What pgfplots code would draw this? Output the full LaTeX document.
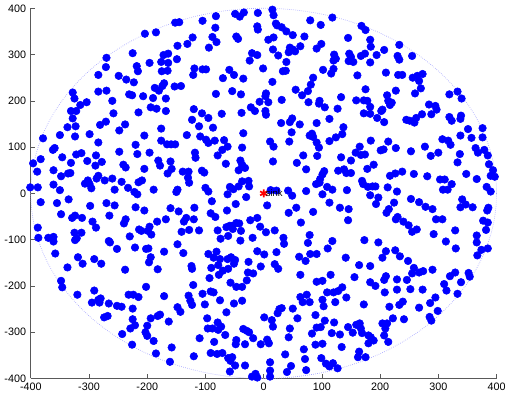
\documentclass[border=0pt]{standalone}
\usepackage{fontspec}
\setmainfont{Liberation Sans}
\usepackage{pgfplots}
\pgfplotsset{compat=1.18}
\begin{document}
\begin{tikzpicture}
\begin{axis}[
  scale only axis, width=346pt, height=275pt,
  xmin=-400,xmax=400,ymin=-400,ymax=400,
  xtick={-400,-300,...,400}, ytick={-400,-300,...,400},
  axis lines*=left,
  axis line style={gray!70!black, line width=0.6pt},
  tick style={gray!70!black, line width=0.5pt},
  tick align=inside, major tick length=3pt,
  tick label style={font=\fontsize{8}{9}\selectfont},
  /pgf/number format/assume math mode=true,
  clip=false,
]
\draw[blue!35, densely dotted, line width=0.5pt] (axis cs:0,0) ellipse [x radius=400, y radius=400];
\addplot[only marks, mark=*, mark size=2.8pt, color=blue, mark options={draw=blue, fill=blue}] coordinates {
(-204,345) (-270,293) (-225,303) (-271,273) (-284,256) (-249,254) (-218,275) (-216,264) (-236,246) (-223,240) (-328,218) (-325,205) (-284,220) (-270,222) (-304,197) (-315,191) (-260,200) (-231,214) (-226,212) (-207,210) (-331,178) (-322,178) (-258,173) (-328,162) (-215,175) (-271,155) (-281,148) (-238,149) (-337,143) (-323,145) (-248,136)
(-185,348) (-152,369) (-145,370) (-105,373) (-82,383) (-49,388) (-41,382) (-34,391) (-10,390) (-83,358) (-11,361) (-10,354) (-122,337) (-131,323) (-148,319) (-88,338) (-81,327) (-94,315) (-47,339) (-44,334) (-196,282) (-172,299) (-164,302) (-176,284) (-164,282) (-149,290) (-175,264) (-165,265) (-119,270) (-121,256) (-105,268) (-99,268) (-59,267) (-51,256) (-70,249) (-35,248) (-20,303) (-11,299) (-24,287) (-1,270) (-171,238) (-174,232) (-187,228) (-180,222) (-153,231) (-142,232) (-190,206) (-168,205) (-82,215) (-54,221) (-39,214) (-194,186) (-184,183) (-168,178) (-120,182) (-106,173) (-95,163) (-72,172) (-38,174) (-22,186) (-15,178) (-7,198) (-123,159) (-111,145) (-87,142) (-176,140)
(15,397) (17,385) (21,367) (23,363) (31,359) (39,350) (50,342) (80,374) (98,364) (118,380) (168,362) (175,353) (70,339) (8,332) (17,337) (16,311) (25,298) (45,315) (43,305) (50,311) (54,307) (63,318) (91,313) (99,323) (145,336) (183,332) (184,317) (167,297) (174,302) (194,299) (183,283) (121,300) (124,291) (120,287) (147,302) (150,295) (146,286) (154,284) (39,284) (33,264) (38,265) (102,267) (120,269) (116,259) (161,255) (15,241) (85,250) (81,235) (55,224) (76,221) (66,212) (4,216) (3,210) (8,197) (31,202) (77,197) (96,200) (95,194) (105,186) (133,208) (127,183) (159,201) (172,201) (178,200) (175,225) (183,187) (172,173) (183,172) (195,163) (3,178) (4,170) (30,152) (49,162) (45,154) (62,149) (91,152) (113,161) (137,143)
(233,321) (207,310) (230,297) (233,289) (255,297) (210,261) (231,256) (238,256) (256,250) (264,254) (273,258) (267,243) (227,222) (212,212) (270,227) (260,216) (319,214) (333,220) (340,205) (214,200) (220,196) (217,191) (204,181) (202,178) (284,192) (295,189) (297,181) (272,171) (288,171) (262,163) (245,159) (251,157) (259,153) (319,165) (323,157) (339,168) (338,161) (207,154) (351,139) (376,141)
(-379,119) (-350,126) (-324,123) (-299,128) (-205,125) (-284,110) (-220,105) (-362,94) (-359,98) (-396,65) (-383,74) (-346,78) (-322,84) (-313,87) (-288,82) (-248,90) (-217,85) (-331,66) (-303,70) (-289,60) (-278,68) (-241,62) (-237,56) (-205,53) (-389,47) (-361,50) (-348,37) (-336,43) (-332,44) (-302,28) (-307,21) (-299,20) (-296,11) (-287,32) (-284,38) (-273,28) (-260,32) (-244,25) (-256,8) (-233,12) (-222,3) (-217,-2) (-215,24) (-209,28) (-401,13) (-388,13) (-361,19) (-350,7) (-383,-19) (-355,-21) (-335,-13) (-348,-45) (-298,-27) (-270,-21) (-256,-26) (-265,-48) (-220,-30) (-205,-37) (-329,-53) (-324,-48) (-312,-53) (-294,-61) (-288,-74) (-237,-56) (-240,-65) (-388,-74) (-387,-96) (-370,-96) (-361,-94) (-361,-104) (-325,-85) (-313,-85) (-321,-97) (-324,-101) (-266,-103) (-264,-106) (-230,-93) (-214,-78) (-210,-81) (-252,-120) (-221,-117) (-202,-120) (-358,-130)
(-132,126) (-35,130) (-176,114) (-166,106) (-159,106) (-152,106) (-109,123) (-99,116) (-95,109) (-84,114) (-68,115) (-62,101) (-71,94) (-79,82) (-37,99) (-196,88) (-118,88) (-117,77) (-181,71) (-178,60) (-160,69) (-158,53) (-165,43) (-139,47) (-129,47) (-130,34) (-128,23) (-106,49) (-102,45) (-65,64) (-40,71) (-37,62) (-32,55) (-43,50) (-37,26) (-26,27) (-25,15) (-30,-8) (-43,15) (-52,9) (-58,14) (-62,-2) (-48,-23) (-189,8) (-148,8) (-150,3) (-100,12) (-95,4) (-89,-17) (-63,-37) (-91,-43) (-83,-51) (-160,-32) (-146,-39) (-119,-31) (-120,-56) (-133,-53) (-137,-61) (-168,-56) (-183,-61) (-196,-72) (-199,-81) (-193,-89) (-141,-83) (-128,-79) (-111,-80) (-79,-80) (-64,-73) (-58,-70) (-54,-70) (-53,-77) (-47,-64) (-42,-65) (-39,-81) (-23,-58) (-11,-53) (-6,-72) (-74,-98) (-61,-92) (-40,-102) (-19,-96) (-148,-110) (-198,-119) (-171,-126) (-138,-129) (-95,-131) (-81,-126) (-11,-125) (1,-132)
(48,132) (83,129) (135,128) (79,125) (85,122) (11,112) (17,101) (44,112) (91,110) (95,99) (113,113) (124,121) (184,114) (165,101) (158,88) (167,83) (174,84) (68,82) (92,81) (133,78) (150,71) (16,69) (57,66) (73,52) (104,48) (101,41) (97,31) (128,49) (138,52) (142,44) (150,44) (178,53) (189,62) (169,27) (171,20) (179,14) (187,15) (192,15) (183,-4) (197,-9) (193,-23) (90,20) (96,23) (109,14) (118,8) (143,7) (101,-2) (73,5) (42,6) (49,-5) (12,7) (22,6) (6,-26) (43,-42) (56,-31) (85,-40) (113,-20) (131,-31) (146,-34) (145,-58) (64,-63) (4,-84) (19,-80) (34,-96) (35,-109) (76,-107) (79,-90) (118,-103) (110,-119) (173,-101) (197,-106) (22,-127) (80,-131) (91,-131)
(338,125) (307,117) (317,114) (321,105) (357,120) (376,121) (364,98) (368,88) (379,94) (385,82) (387,63) (394,50) (337,85) (333,67) (300,88) (287,81) (277,101) (253,91) (227,98) (214,112) (206,95) (201,93) (226,43) (238,47) (217,38) (258,42) (281,37) (303,30) (311,30) (323,20) (308,8) (316,8) (348,42) (366,31) (390,38) (397,36) (383,14) (390,4) (213,13) (229,4) (224,-20) (253,-12) (267,-19) (278,-29) (290,-34) (341,-13) (347,-24) (338,-30) (359,-30) (386,-31) (384,-37) (215,-34) (211,-42) (227,-56) (230,-51) (240,-61) (249,-69) (263,-78) (255,-83) (296,-56) (307,-56) (329,-80) (292,-88) (313,-104) (377,-59) (385,-63) (382,-79) (366,-91) (366,-106) (330,-119) (374,-122) (385,-119) (210,-125) (226,-123) (367,-134)
(-319,-138) (-291,-142) (-279,-152) (-311,-152) (-337,-160) (-238,-165) (-348,-189) (-346,-203) (-320,-219) (-291,-210) (-295,-236) (-284,-230) (-280,-227) (-282,-236) (-266,-238) (-252,-243) (-244,-245) (-232,-219) (-224,-219) (-215,-224) (-225,-249) (-202,-202) (-274,-268) (-268,-265) (-225,-272) (-221,-285) (-229,-292) (-243,-304) (-226,-327) (-203,-300) (-200,-286) (-200,-308)
(-194,-138) (-197,-149) (-182,-164) (-124,-157) (-123,-163) (-86,-139) (-75,-142) (-78,-155) (-90,-161) (-62,-142) (-56,-138) (-49,-144) (-51,-152) (-61,-163) (-70,-167) (-77,-176) (-93,-183) (-26,-148) (-5,-158) (-27,-171) (-18,-173) (-29,-188) (-57,-193) (-47,-202) (-37,-202) (-121,-198) (-171,-222) (-129,-221) (-126,-232) (-123,-241) (-105,-217) (-91,-212) (-86,-214) (-75,-231) (-101,-240) (-51,-238) (-37,-232) (-148,-246) (-143,-256) (-178,-262) (-182,-265) (-194,-270) (-163,-277) (-97,-270) (-64,-257) (-79,-279) (-73,-288) (-96,-292) (-88,-292) (-78,-295) (-66,-306) (-35,-293) (-29,-297) (-25,-300) (-18,-313) (1,-268) (-5,-326) (-47,-317) (-48,-326) (-32,-326) (-189,-319) (-110,-313) (-85,-321) (-158,-333) (-185,-346) (-161,-364) (-120,-352) (-91,-345) (-80,-347) (-71,-345) (-61,-356) (-54,-354) (-57,-362) (-49,-372) (-32,-372) (-58,-385) (-20,-396) (-14,-390) (-11,-398)
(61,-137) (72,-146) (141,-139) (19,-153) (25,-163) (164,-155) (183,-157) (63,-176) (91,-191) (101,-189) (115,-176) (156,-181) (183,-192) (192,-200) (109,-214) (120,-214) (128,-211) (135,-203) (142,-225) (74,-219) (63,-224) (67,-235) (79,-235) (101,-230) (103,-244) (123,-235) (172,-240) (31,-248) (27,-250) (50,-249) (24,-259) (14,-274) (16,-288) (58,-270) (89,-263) (105,-275) (121,-279) (91,-290) (98,-289) (45,-292) (43,-311) (83,-303) (117,-302) (131,-305) (145,-289) (153,-301) (159,-284) (165,-281) (167,-292) (169,-302) (180,-307) (184,-311) (189,-318) (180,-324) (6,-316) (9,-324) (89,-327) (101,-325) (134,-332) (69,-337) (37,-348) (164,-342) (162,-354) (175,-354) (71,-358) (99,-356) (107,-368) (119,-367) (113,-374) (127,-378) (11,-365) (47,-373) (40,-386) (73,-382) (11,-383) (11,-396)
(204,-139) (234,-136) (248,-146) (258,-161) (255,-173) (267,-171) (274,-168) (290,-165) (246,-187) (229,-186) (207,-187) (210,-179) (208,-214) (229,-208) (252,-207) (273,-208) (310,-196) (314,-210) (320,-179) (329,-171) (339,-192) (333,-217) (352,-172) (354,-180) (216,-245) (233,-241) (239,-234) (267,-247) (286,-237) (295,-225) (299,-254) (285,-267) (288,-275) (222,-270) (241,-272) (204,-281) (212,-281) (209,-292) (207,-307) (214,-321)
};
\addplot[only marks, mark=asterisk, mark size=3pt, red, line width=1.3pt,
  nodes near coords={sink},
  every node near coord/.append style={anchor=west, text=black, font=\fontsize{7}{8}\selectfont, inner xsep=1pt, yshift=0pt}] coordinates {(0,0)};
\end{axis}
\end{tikzpicture}
\end{document}
